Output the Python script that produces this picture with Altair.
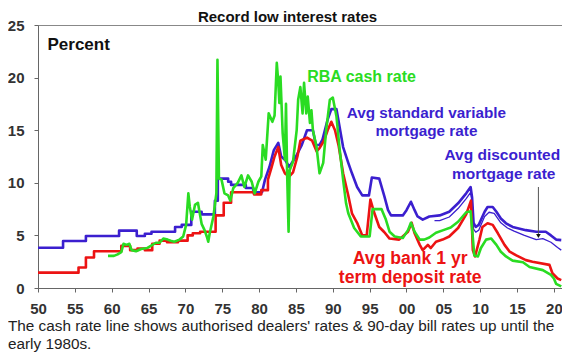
import altair as alt
import pandas as pd

# ---- Avg standard variable mortgage rate ----
svr_year = [1950, 1953.4, 1953.4, 1956.5, 1956.5, 1961, 1961, 1963.4, 1963.4, 1964.5, 1964.5, 1965.4, 1965.4,
            1968.6, 1968.6, 1969.5, 1969.5, 1970.8, 1970.8, 1972.2, 1972.2, 1974.0, 1974.0, 1974.4, 1974.4,
            1975.8, 1975.8, 1976.2, 1976.2, 1978.2, 1978.2, 1979.2, 1979.2, 1980.4, 1980.8, 1981.4, 1982.0,
            1982.6, 1983.0, 1983.5, 1984.1, 1985.0, 1985.8, 1986.5, 1987.3, 1987.7, 1988.2, 1988.6, 1989.3,
            1989.8, 1990.5, 1991.0, 1991.4, 1992.1, 1992.6, 1993.3, 1994.0, 1994.9, 1995.3, 1996.3, 1997.0,
            1997.5, 1997.9, 1999.5, 2000.0, 2000.6, 2001.1, 2001.5, 2002.2, 2003.1, 2004.5, 2005.8, 2007.0,
            2008.1, 2008.7, 2008.9, 2009.1, 2009.4, 2009.8, 2010.6, 2011.0, 2011.7, 2012.2, 2012.8, 2013.5,
            2014.4, 2016.2, 2017.6, 2018.9, 2019.6, 2020.3, 2021.0]
svr_rate = [3.83, 3.83, 4.47, 4.47, 4.94, 4.94, 5.45, 5.45, 4.94, 4.94, 5.15, 5.15, 5.35,
            5.35, 5.8, 5.8, 6.0, 6.0, 7.25, 7.25, 7.0, 7.0, 8.3, 8.3, 10.4,
            10.4, 10.1, 10.1, 9.8, 9.8, 9.5, 9.5, 9.1, 9.1, 10.3, 11.5, 13.1,
            13.8, 12.5, 12.2, 11.5, 12.5, 13.6, 15.0, 15.0, 13.6, 13.6, 14.1, 16.0,
            17.0, 17.0, 15.0, 13.4, 11.9, 10.9, 9.6, 8.8, 8.8, 10.5, 10.4, 8.7,
            7.4, 6.9, 6.9, 7.4, 8.2, 7.4, 6.8, 6.5, 6.8, 6.9, 7.25, 8.05,
            9.0, 9.6, 8.6, 6.2, 5.8, 6.0, 7.25, 7.7, 7.7, 7.25, 6.6, 6.15,
            5.8, 5.5, 5.35, 5.35, 5.0, 4.6, 4.55]

# ---- Avg discounted mortgage rate ----
disc_year = [2003.8, 2004.5, 2005.8, 2007.0, 2008.1, 2008.7, 2008.9, 2009.1, 2009.4, 2009.8, 2010.6,
             2011.2, 2011.9, 2012.8, 2013.7, 2014.6, 2016.0, 2017.6, 2018.5, 2019.6, 2020.5, 2021.0]
disc_rate = [6.4, 6.4, 6.75, 7.55, 8.5, 9.1, 8.3, 5.6, 5.3, 5.5, 6.8,
             7.2, 7.1, 6.2, 5.7, 5.4, 5.0, 4.6, 4.7, 4.35, 3.85, 3.6]

# ---- Avg bank 1 yr term deposit rate ----
td_year = [1950, 1955.5, 1955.5, 1956.5, 1956.5, 1957.6, 1957.6, 1961.3, 1961.3, 1962.5, 1962.5, 1963.5,
           1963.5, 1964.5, 1964.5, 1965.5, 1965.5, 1966.5, 1966.5, 1967.5, 1967.5, 1969.0, 1969.0, 1970.3,
           1970.3, 1971.0, 1971.0, 1972.0, 1972.0, 1974.1, 1974.1, 1975.2, 1975.2, 1976.2, 1976.2, 1979.3,
           1979.3, 1980.3, 1980.3, 1981.2, 1981.2, 1981.7, 1982.1, 1982.6, 1983.0, 1983.5, 1984.1, 1984.6,
           1985.2, 1985.6, 1986.5, 1987.2, 1987.8, 1988.2, 1988.8, 1989.3, 1989.8, 1990.3, 1990.8, 1991.4,
           1992.1, 1992.6, 1993.3, 1994.0, 1994.6, 1995.1, 1995.6, 1996.3, 1997.0, 1997.7, 1999.0, 2000.2,
           2000.7, 2001.1, 2001.8, 2002.2, 2002.9, 2003.3, 2004.0, 2004.9, 2005.8, 2007.0, 2008.1, 2008.75,
           2009.0, 2009.3, 2009.9, 2010.3, 2011.0, 2011.7, 2012.4, 2013.3, 2014.0, 2014.9, 2016.2, 2017.1,
           2019.4, 2019.8, 2020.5, 2021.0]
td_rate = [1.46, 1.46, 1.95, 1.95, 2.9, 2.9, 3.5, 3.5, 4.0, 4.0, 3.6, 3.6,
           3.75, 3.75, 3.6, 3.6, 4.2, 4.2, 4.5, 4.5, 4.35, 4.35, 4.5, 4.5,
           5.0, 5.0, 5.2, 5.2, 5.35, 5.35, 6.9, 6.9, 8.1, 8.1, 9.1, 9.1,
           8.9, 8.9, 9.3, 9.3, 10.3, 11.5, 12.5, 13.4, 11.7, 10.9, 10.6, 11.0,
           12.5, 14.0, 14.3, 14.0, 13.0, 13.3, 14.0, 15.0, 15.8, 15.0, 13.5, 10.9,
           8.8, 7.1, 6.2, 5.0, 5.0, 8.4, 7.2, 5.8, 5.3, 4.7, 4.6, 5.35,
           6.2, 5.2, 4.1, 3.6, 4.1, 3.8, 4.4, 4.6, 4.9, 5.7, 7.0, 8.3,
           3.6, 3.0, 4.6, 5.8, 6.15, 6.0, 5.2, 4.1, 3.45, 3.1, 2.65, 2.5,
           2.2, 1.4, 0.9, 0.75]

# ---- RBA cash rate ----
cash_year = [1959.5, 1960.3, 1960.8, 1961.3, 1961.6, 1962.0, 1962.4, 1962.7, 1963.3, 1964.0, 1964.8, 1965.3,
             1966.0, 1966.5, 1967.0, 1967.6, 1968.0, 1968.5, 1969.2, 1969.7, 1970.1, 1970.4, 1970.6, 1970.9,
             1971.3, 1971.7, 1972.2, 1972.6, 1972.9, 1973.1, 1973.3, 1973.8, 1974.2, 1974.35, 1974.55, 1974.9,
             1975.3, 1975.8, 1976.1, 1976.5, 1977.1, 1977.6, 1978.0, 1978.5, 1979.0, 1979.4, 1979.9, 1980.3,
             1980.5, 1980.9, 1981.3, 1981.8, 1982.1, 1982.4, 1982.6, 1982.75, 1982.9, 1983.2, 1983.5, 1983.65,
             1983.8, 1984.0, 1984.15, 1984.6, 1985.1, 1985.3, 1985.6, 1985.9, 1986.1, 1986.4, 1986.6, 1986.9,
             1987.1, 1987.3, 1987.8, 1988.2, 1988.7, 1989.1, 1989.6, 1990.0, 1990.5, 1990.9, 1991.4, 1991.8,
             1992.1, 1992.9, 1993.8, 1995.0, 1995.4, 1996.6, 1997.2, 1997.7, 1998.4, 1999.5, 2000.2, 2000.6,
             2001.1, 2001.8, 2002.4, 2003.1, 2004.0, 2005.0, 2006.0, 2007.0, 2008.1, 2008.7, 2009.2, 2009.7,
             2010.1, 2010.8, 2011.5, 2012.2, 2012.8, 2013.5, 2014.4, 2015.8, 2016.7, 2018.5, 2019.6, 2020.0,
             2020.3, 2021.0]
cash_rate = [3.05, 3.05, 3.2, 3.4, 4.2, 4.1, 4.2, 3.6, 3.5, 3.7, 3.8, 4.0,
             4.3, 4.3, 4.7, 4.6, 4.5, 4.4, 4.6, 4.9, 6.0, 9.0, 7.7, 6.5,
             7.9, 8.1, 6.1, 5.5, 4.9, 4.4, 5.2, 6.8, 9.0, 21.7, 10.4, 10.3,
             9.0, 8.8, 8.3, 9.5, 10.0, 10.7, 9.6, 10.7, 10.1, 9.0, 10.1, 10.6,
             13.6, 12.2, 16.6, 15.8, 16.4, 21.4, 19.6, 17.6, 20.1, 14.7, 12.2, 17.5,
             11.0, 5.35, 11.2, 12.0, 15.0, 17.9, 19.1, 16.6, 19.5, 16.6, 18.2, 15.7,
             16.9, 15.0, 13.4, 10.9, 11.9, 15.0, 17.9, 18.1, 16.3, 13.4, 10.3, 8.05,
             7.1, 5.7, 4.9, 4.9, 7.5, 7.5, 6.5, 5.35, 4.9, 4.75, 5.5, 6.2,
             5.35, 4.6, 4.6, 4.8, 5.25, 5.5, 5.75, 6.3, 7.2, 7.3, 3.1, 3.0,
             3.8, 4.6, 4.7, 4.1, 3.45, 3.0, 2.6, 2.45, 2.0, 1.7, 1.25, 0.9,
             0.4, 0.15]

# ---- tick values / labels ----
x_ticks = list(range(1950, 2021, 5))
y_ticks = [0, 5, 10, 15, 20, 25]

# ---- annotations (in data coordinates) ----
cash_label = (["RBA cash rate"], [1993.9], [20.06])
svr_label = (["Avg standard variable", "mortgage rate"], [2002.7, 2002.7], [16.63, 14.92])
disc_label = (["Avg discounted", "mortgage rate"], [2013.0, 2013.2], [12.64, 10.84])
td_label = (["Avg bank 1 yr", "term deposit rate"], [2000.5, 2000.5], [2.8, 0.95])
arrow_year = [2017.9, 2017.9]
arrow_rate = [9.6, 4.95]

TITLE = "Record low interest rates"
CAPTION = "The cash rate line shows authorised dealers' rates & 90-day bill rates up until the\nearly 1980s."

GREEN = "#2ADC22"
BLUE = "#3B1FCF"
RED = "#EC1313"
FONT = "Liberation Sans"


def frame(years, vals):
    return pd.DataFrame({"year": years, "rate": vals, "i": list(range(len(years)))})


x_scale = alt.Scale(domain=[1950, 2021.1], nice=False, zero=False)
y_scale = alt.Scale(domain=[0, 25], nice=False)

x_axis = alt.Axis(values=x_ticks, title=None, grid=False, tickSize=4, labelPadding=9,
                  labelExpr="(datum.value % 100) < 10 ? '0' + (datum.value % 100) : '' + (datum.value % 100)",
                  labelFont=FONT, labelFontSize=15, labelFontWeight="bold", labelColor="#333333",
                  domainColor="#666666", tickColor="#666666", labelFlush=False)
y_axis = alt.Axis(values=y_ticks, title="Percent", grid=False, tickSize=4, labelPadding=10,
                  labelFont=FONT, labelFontSize=15, labelFontWeight="bold", labelColor="#333333",
                  domainColor="#666666", tickColor="#666666",
                  titleAngle=0, titleX=9, titleY=24, titleAlign="left", titleBaseline="alphabetic",
                  titleFont=FONT, titleFontSize=17, titleFontWeight="bold", titleColor="#111111")

X = alt.X("year:Q", scale=x_scale, axis=x_axis)
Y = alt.Y("rate:Q", scale=y_scale, axis=y_axis)


def line(years, vals, color, width):
    return alt.Chart(frame(years, vals)).mark_line(color=color, strokeWidth=width, strokeJoin="round").encode(
        x=X, y=Y, order="i:Q")


def label(spec, color, size):
    texts, years, vals = spec
    df = pd.DataFrame({"year": years, "rate": vals, "label": texts})
    return alt.Chart(df).mark_text(font=FONT, fontWeight="bold", fontSize=size, color=color,
                                   baseline="middle", align="center").encode(x=X, y=Y, text="label:N")


svr = line(svr_year, svr_rate, BLUE, 2.6)
disc = line(disc_year, disc_rate, BLUE, 1.3)
td = line(td_year, td_rate, RED, 2.6)
cash = line(cash_year, cash_rate, GREEN, 2.6)

labels = [label(cash_label, GREEN, 16), label(svr_label, BLUE, 15.3), label(disc_label, BLUE, 15.5),
          label(td_label, RED, 17.6)]

arrow_df = frame(arrow_year, arrow_rate)
arrow_line = alt.Chart(arrow_df).mark_line(color="#555555", strokeWidth=1).encode(x=X, y=Y, order="i:Q")
arrow_head = alt.Chart(arrow_df.iloc[[1]]).mark_point(shape="triangle-down", filled=True, color="#111111",
                                                       size=22, opacity=1).encode(x=X, y=Y)

caption = alt.Chart(pd.DataFrame({"t": [CAPTION]})).mark_text(
    font=FONT, fontSize=15.3, color="#222222", align="left", baseline="alphabetic",
    lineBreak="\n", lineHeight=18).encode(x=alt.value(-30), y=alt.value(306), text="t:N")

title = alt.Chart(pd.DataFrame({"t": [TITLE]})).mark_text(
    font=FONT, fontSize=15, fontWeight="bold", color="#111111", align="center",
    baseline="alphabetic").encode(x=alt.value(249.5), y=alt.value(-3), text="t:N")

chart = alt.layer(svr, disc, td, cash, *labels, arrow_line, arrow_head, caption, title).properties(
    width=524, height=263,
    autosize="none",
    padding={"left": 30, "top": 17, "right": 0, "bottom": 65},
).configure_view(stroke="#888888", strokeWidth=1)

chart.save("out.html", embed_options={"renderer": "svg", "actions": False})
